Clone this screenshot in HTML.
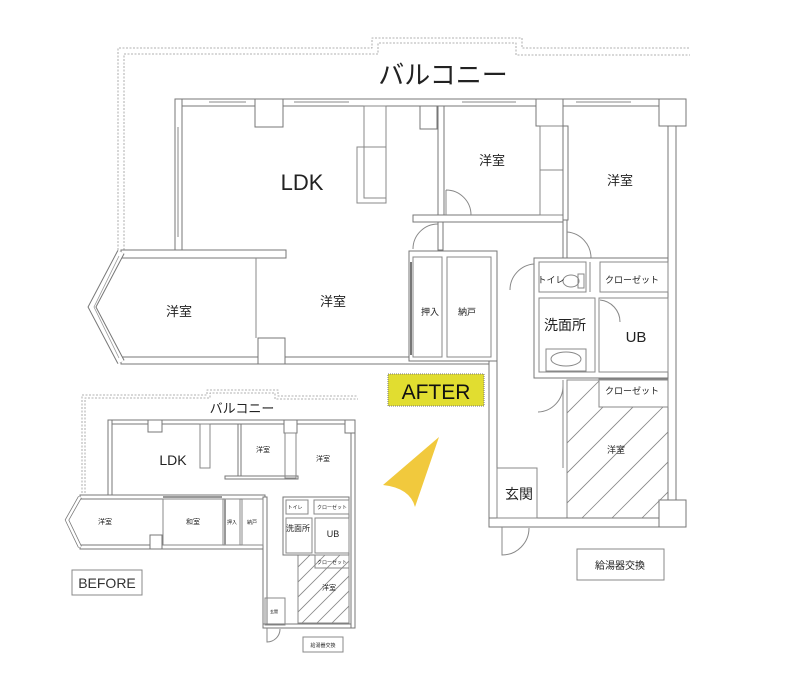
<!DOCTYPE html>
<html><head><meta charset="utf-8">
<style>
html,body{margin:0;padding:0;background:#fff;}
svg{display:block;}
.w{fill:#fff;stroke:#777;stroke-width:1;}
.t{fill:none;stroke:#888;stroke-width:1;}
.d{fill:none;stroke:#999;stroke-width:0.8;stroke-dasharray:2,1.5;}
text{font-family:"Liberation Sans","Noto Sans CJK JP",sans-serif;fill:#222;text-anchor:middle;}
.h{stroke:#888;stroke-width:0.8;}
</style></head>
<body>
<svg width="801" height="687" viewBox="0 0 801 687" xmlns="http://www.w3.org/2000/svg">
<!-- ============ AFTER PLAN ============ -->
<!-- balcony dashed -->
<path class="d" d="M118,250 L118,48 L372,48 L372,38 L522,38 L522,48 L690,48"/>
<path class="d" d="M124,250 L124,54 L378,54 L378,43 L516,43 L516,55 L690,55"/>
<text x="443" y="84" font-size="26">バルコニー</text>

<!-- hatched room -->
<clipPath id="hc"><path d="M567,380 L599,380 L599,407 L668,407 L668,518 L567,518 Z"/></clipPath>
<g clip-path="url(#hc)" class="h">
<line x1="540" y1="500" x2="700" y2="340"/>
<line x1="540" y1="530" x2="700" y2="370"/>
<line x1="540" y1="560" x2="700" y2="400"/>
<line x1="540" y1="590" x2="700" y2="430"/>
<line x1="540" y1="620" x2="700" y2="460"/>
<line x1="540" y1="650" x2="700" y2="490"/>
<line x1="540" y1="680" x2="700" y2="520"/>
<line x1="540" y1="470" x2="700" y2="310"/>
<line x1="540" y1="440" x2="700" y2="280"/>
</g>
<rect x="567" y="380" width="101" height="138" class="t"/>

<!-- outer walls -->
<rect class="w" x="175" y="99" width="511" height="7"/>
<rect class="w" x="175" y="99" width="7" height="152"/>
<rect class="w" x="121" y="250" width="165" height="8"/>
<rect class="w" x="121" y="357" width="376" height="7"/>
<rect class="w" x="489" y="357" width="8" height="170"/>
<rect class="w" x="489" y="518" width="197" height="9"/>
<rect class="w" x="668" y="106" width="8" height="412"/>
<!-- bay -->
<polyline points="121,252 92,307 121,362" fill="none" stroke="#777" stroke-width="8"/>
<polyline points="121,252 92,307 121,362" fill="none" stroke="#fff" stroke-width="6"/>
<polyline points="119,256 94,307 119,358" fill="none" stroke="#999" stroke-width="0.8"/>
<!-- windows on top wall -->
<g class="t"><line x1="209" y1="102" x2="246" y2="102"/><line x1="294" y1="102" x2="349" y2="102"/><line x1="462" y1="102" x2="516" y2="102"/><line x1="576" y1="102" x2="631" y2="102"/><line x1="178" y1="127" x2="178" y2="237"/></g>
<!-- columns -->
<rect class="w" x="255" y="99" width="28" height="28"/>
<rect class="w" x="420" y="106" width="17" height="23"/>
<rect class="w" x="536" y="99" width="27" height="27"/>
<rect class="w" x="659" y="99" width="27" height="27"/>
<rect class="w" x="258" y="338" width="27" height="26"/>
<rect class="w" x="659" y="500" width="27" height="27"/>
<!-- LDK counter -->
<rect class="t" x="357" y="147" width="29" height="56"/>
<rect class="t" x="364" y="106" width="22" height="92"/>
<!-- left 洋室 right thin wall -->
<line class="t" x1="256" y1="258" x2="256" y2="338"/>
<!-- top middle room -->
<rect class="w" x="438" y="106" width="6" height="109"/>
<rect class="w" x="413" y="215" width="150" height="7"/>
<rect class="w" x="438" y="222" width="5" height="28"/>
<path class="t" d="M446,190 A25,25 0 0 1 471,215 M446,190 L446,215"/>
<path class="t" d="M438,224 A25,25 0 0 0 413,249"/>
<!-- closet right of top room -->
<rect class="t" x="540" y="126" width="23" height="89"/>
<line class="t" x1="540" y1="170" x2="563" y2="170"/>
<rect class="w" x="563" y="126" width="5" height="94"/>
<rect class="w" x="563" y="220" width="4" height="38"/>
<path class="t" d="M567,232 A26,26 0 0 1 591,258"/>
<!-- 押入 納戸 -->
<rect class="w" x="409" y="251" width="88" height="110"/>
<rect class="t" x="413" y="257" width="29" height="100"/>
<rect class="t" x="447" y="257" width="44" height="100"/>
<line x1="411" y1="262" x2="411" y2="355" stroke="#777" stroke-width="2"/>
<!-- bath block -->
<rect class="w" x="534" y="258" width="134" height="120"/>
<rect class="t" x="539" y="262" width="47" height="30"/>
<rect class="t" x="600" y="262" width="68" height="30"/>
<line class="t" x1="590" y1="262" x2="590" y2="292"/>
<rect class="t" x="539" y="298" width="56" height="74"/>
<rect class="t" x="599" y="298" width="69" height="74"/>
<ellipse class="t" cx="571" cy="281" rx="8" ry="6"/>
<rect class="t" x="578" y="274" width="6" height="14"/>
<rect class="t" x="546" y="349" width="40" height="22"/>
<ellipse class="t" cx="566" cy="359" rx="15" ry="7"/>
<path class="t" d="M534,264 A26,26 0 0 0 510,290"/>
<path class="t" d="M600,300 A22,22 0 0 1 620,322"/>
<!-- lower closet -->
<rect class="t" x="599" y="379" width="69" height="28"/>
<path class="t" d="M563,386 A26,26 0 0 1 538,412"/>
<line class="t" x1="563" y1="380" x2="563" y2="468"/>
<!-- 玄関 -->
<rect class="t" x="497" y="468" width="40" height="50"/>
<path class="t" d="M502,527 L502,555 A27,27 0 0 0 529,528"/>
<!-- 給湯器 -->
<rect class="t" x="577" y="549" width="87" height="31"/>
<!-- labels -->
<text x="302" y="190" font-size="22">LDK</text>
<text x="492" y="165" font-size="13">洋室</text>
<text x="620" y="185" font-size="13">洋室</text>
<text x="179" y="316" font-size="13">洋室</text>
<text x="333" y="306" font-size="13">洋室</text>
<text x="430" y="315" font-size="9">押入</text>
<text x="467" y="315" font-size="9">納戸</text>
<text x="551" y="283" font-size="9">トイレ</text>
<text x="632" y="283" font-size="9">クローゼット</text>
<text x="565" y="330" font-size="14">洗面所</text>
<text x="636" y="342" font-size="15">UB</text>
<text x="632" y="394" font-size="9">クローゼット</text>
<text x="616" y="453" font-size="9">洋室</text>
<text x="519" y="499" font-size="14">玄関</text>
<text x="620" y="569" font-size="10">給湯器交換</text>
<!-- AFTER -->
<rect x="388" y="374" width="96" height="32" fill="#e1dd30" stroke="#777" stroke-dasharray="1,1"/>
<text x="436" y="399" font-size="21" style="fill:#111">AFTER</text>
<path d="M439,437 L415,507 Q410,488 383,485 Z" fill="#f1c93d"/>

<!-- ============ BEFORE PLAN ============ -->
<path class="d" d="M82,493 L82,395 L207,395 L207,390 L278,390 L278,396 L358,396"/>
<path class="d" d="M85,493 L85,398 L210,398 L210,393 L275,393 L275,399 L358,399"/>
<text x="242" y="413" font-size="13">バルコニー</text>
<clipPath id="hc2"><rect x="298" y="555" width="51" height="68"/></clipPath>
<g clip-path="url(#hc2)" class="h">
<line x1="280" y1="600" x2="360" y2="520"/><line x1="280" y1="615" x2="360" y2="535"/><line x1="280" y1="630" x2="360" y2="550"/><line x1="280" y1="645" x2="360" y2="565"/><line x1="280" y1="660" x2="360" y2="580"/><line x1="280" y1="675" x2="360" y2="595"/><line x1="280" y1="585" x2="360" y2="505"/>
</g>
<rect class="t" x="298" y="555" width="51" height="68"/>
<rect class="w" x="108" y="420" width="247" height="4"/>
<rect class="w" x="108" y="420" width="4" height="77"/>
<rect class="w" x="80" y="495" width="185" height="4"/>
<rect class="w" x="80" y="545" width="185" height="4"/>
<rect class="w" x="263" y="497" width="4" height="131"/>
<rect class="w" x="263" y="624" width="92" height="4"/>
<rect class="w" x="351" y="420" width="4" height="208"/>
<polyline points="80,497 67,520 80,547" fill="none" stroke="#777" stroke-width="4"/>
<polyline points="80,497 67,520 80,547" fill="none" stroke="#fff" stroke-width="2.5"/>
<rect class="w" x="148" y="420" width="14" height="12"/>
<rect class="w" x="284" y="420" width="13" height="13"/>
<rect class="w" x="345" y="420" width="10" height="13"/>
<rect class="w" x="150" y="535" width="12" height="14"/>
<rect class="t" x="200" y="424" width="10" height="44"/>
<rect class="w" x="238" y="424" width="3" height="53"/>
<rect class="w" x="225" y="476" width="73" height="3"/>
<rect class="t" x="285" y="433" width="11" height="45"/>
<line x1="163" y1="497" x2="222" y2="497" stroke="#999" stroke-width="2"/>
<rect class="t" x="163" y="499" width="60" height="46"/>
<rect class="t" x="225" y="499" width="15" height="46"/>
<rect class="t" x="242" y="499" width="21" height="46"/>
<line x1="225" y1="499" x2="225" y2="545" stroke="#999" stroke-width="2"/>
<rect class="w" x="283" y="497" width="66" height="58"/>
<rect class="t" x="286" y="500" width="22" height="14"/>
<rect class="t" x="314" y="500" width="35" height="14"/>
<rect class="t" x="286" y="518" width="26" height="35"/>
<rect class="t" x="315" y="518" width="34" height="35"/>
<rect class="t" x="315" y="555" width="34" height="13"/>
<rect class="t" x="265" y="598" width="20" height="27"/>
<path class="t" d="M267,628 L267,642 A13,13 0 0 0 280,629"/>
<rect class="t" x="303" y="637" width="40" height="15"/>
<rect class="t" x="72" y="570" width="70" height="25"/>
<text x="173" y="465" font-size="14">LDK</text>
<text x="263" y="452" font-size="7">洋室</text>
<text x="323" y="461" font-size="7">洋室</text>
<text x="105" y="524" font-size="7">洋室</text>
<text x="193" y="524" font-size="7">和室</text>
<text x="232" y="524" font-size="5">押入</text>
<text x="252" y="524" font-size="5">納戸</text>
<text x="295" y="509" font-size="5">トイレ</text>
<text x="332" y="509" font-size="5">クローゼット</text>
<text x="298" y="531" font-size="8">洗面所</text>
<text x="333" y="537" font-size="9">UB</text>
<text x="332" y="564" font-size="5">クローゼット</text>
<text x="329" y="590" font-size="7">洋室</text>
<text x="274" y="613" font-size="4">玄関</text>
<text x="323" y="647" font-size="5">給湯器交換</text>
<text x="107" y="588" font-size="14" style="fill:#333">BEFORE</text>
</svg>
</body></html>
